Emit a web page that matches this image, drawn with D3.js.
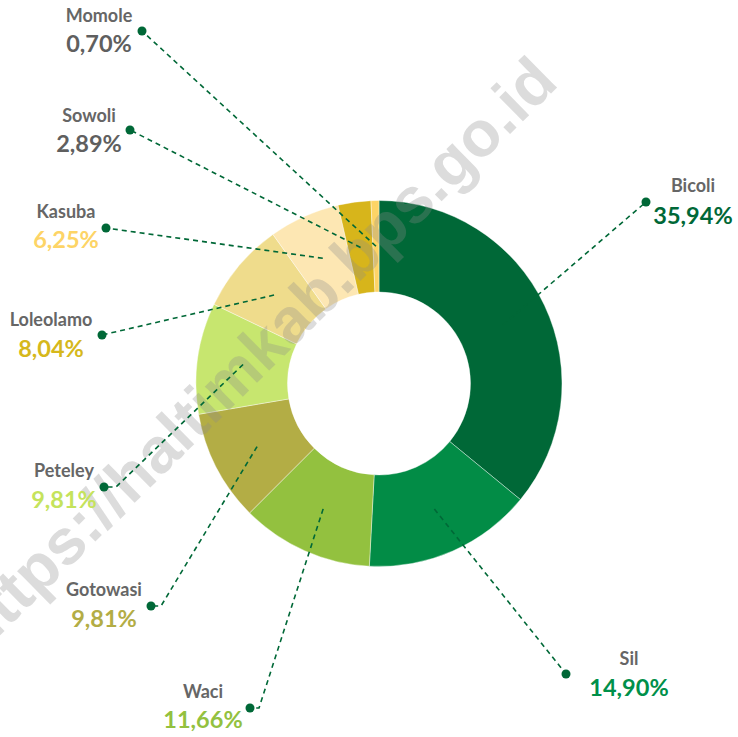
<!DOCTYPE html>
<html>
<head>
<meta charset="utf-8">
<script src="https://cdn.jsdelivr.net/npm/d3@7"></script>
<style>
  html, body { margin: 0; padding: 0; background: #fff; }
  #chart { width: 738px; height: 737px; }
  text { font-family: Lato, "Open Sans", sans-serif; font-weight: bold; }
</style>
</head>
<body>
<div id="chart"></div>
<script>
/** Data */
const categories = ["Bicoli", "Sil", "Waci", "Gotowasi", "Peteley", "Loleolamo", "Kasuba", "Sowoli", "Momole"];
const values = [35.94, 14.90, 11.66, 9.81, 9.81, 8.04, 6.25, 2.89, 0.70];
const sliceColors = ["#006837", "#028c46", "#93c13f", "#b3ad45", "#c7e66f", "#efdc8c", "#fde7b3", "#d7b51b", "#fdd466"];
const pctColors = ["#006837", "#00904a", "#93c13f", "#b3ad45", "#c5e35c", "#d6b81c", "#fdd466", "#5f5f5f", "#5f5f5f"];

/** Label placement (dot position, text centre, elbow length) */
const labelLayout = [
  { dx: 646, dy: 202, tx: 693, ny: 192, py: 224, elbow: 0 },
  { dx: 566, dy: 674, tx: 629, ny: 665, py: 696, elbow: 0 },
  { dx: 250, dy: 708, tx: 203, ny: 698, py: 728, elbow: 9 },
  { dx: 151, dy: 606, tx: 104, ny: 596, py: 627, elbow: 10 },
  { dx: 104, dy: 487, tx: 64, ny: 477, py: 508, elbow: 12 },
  { dx: 102, dy: 335, tx: 51, ny: 326, py: 357, elbow: 0 },
  { dx: 106, dy: 228, tx: 66, ny: 218, py: 248, elbow: 0 },
  { dx: 130, dy: 130, tx: 89, ny: 122, py: 152, elbow: 0 },
  { dx: 142, dy: 31, tx: 99, ny: 22, py: 52, elbow: 0 },
];

/** Graph configs */
const width = 738;
const height = 737;
const cx = 379;
const cy = 383.5;
const outerR = 183;
const innerR = 91.5;

const locale = d3.formatLocale({ decimal: ",", thousands: ".", grouping: [3], currency: ["", ""] });
const fmt = locale.format(".2f");

const data = categories.map((c, i) => ({ name: c, value: values[i], color: sliceColors[i], pctColor: pctColors[i], lay: labelLayout[i] }));

const svg = d3
  .select("#chart")
  .append("svg")
  .attr("width", width)
  .attr("height", height);

const pie = d3.pie().sort(null).value((d) => d.value);
const arc = d3.arc().innerRadius(innerR).outerRadius(outerR);
const arcs = pie(data);

const g = svg.append("g").attr("transform", `translate(${cx},${cy})`);

g.selectAll("path")
  .data(arcs)
  .enter()
  .append("path")
  .attr("d", arc)
  .attr("fill", (d) => d.data.color)
  .attr("stroke", "#fff")
  .attr("stroke-width", 0.4);

/** Watermark */
svg
  .append("text")
  .attr("transform", "translate(258,358) rotate(-44.5)")
  .attr("text-anchor", "middle")
  .attr("dominant-baseline", "middle")
  .style("font-family", "'Liberation Sans', Arial, sans-serif")
  .style("font-size", "64px")
  .style("fill", "rgba(140,140,140,0.3)")
  .text("https://haltimkab.bps.go.id");

/** Leader lines */
const line = d3.line();
svg
  .append("g")
  .selectAll("path")
  .data(arcs)
  .enter()
  .append("path")
  .attr("d", (d) => {
    const c = arc.centroid(d);
    const l = d.data.lay;
    const pts = [[cx + c[0], cy + c[1]]];
    if (l.elbow) pts.push([l.dx + l.elbow, l.dy]);
    pts.push([l.dx, l.dy]);
    return line(pts);
  })
  .attr("fill", "none")
  .attr("stroke", "#006837")
  .attr("stroke-width", 1.6)
  .attr("stroke-dasharray", "5,4");

svg
  .append("g")
  .selectAll("circle")
  .data(data)
  .enter()
  .append("circle")
  .attr("cx", (d) => d.lay.dx)
  .attr("cy", (d) => d.lay.dy)
  .attr("r", 4.5)
  .attr("fill", "#006837");

/** Labels */
const labels = svg.append("g").selectAll("g").data(data).enter().append("g");

labels
  .append("text")
  .attr("x", (d) => d.lay.tx)
  .attr("y", (d) => d.lay.ny)
  .attr("text-anchor", "middle")
  .style("font-size", "18px")
  .style("fill", "#666")
  .text((d) => d.name);

labels
  .append("text")
  .attr("x", (d) => d.lay.tx)
  .attr("y", (d) => d.lay.py)
  .attr("text-anchor", "middle")
  .style("font-size", "23.5px")
  .style("fill", (d) => d.pctColor)
  .text((d) => fmt(d.value) + "%");
</script>
</body>
</html>
